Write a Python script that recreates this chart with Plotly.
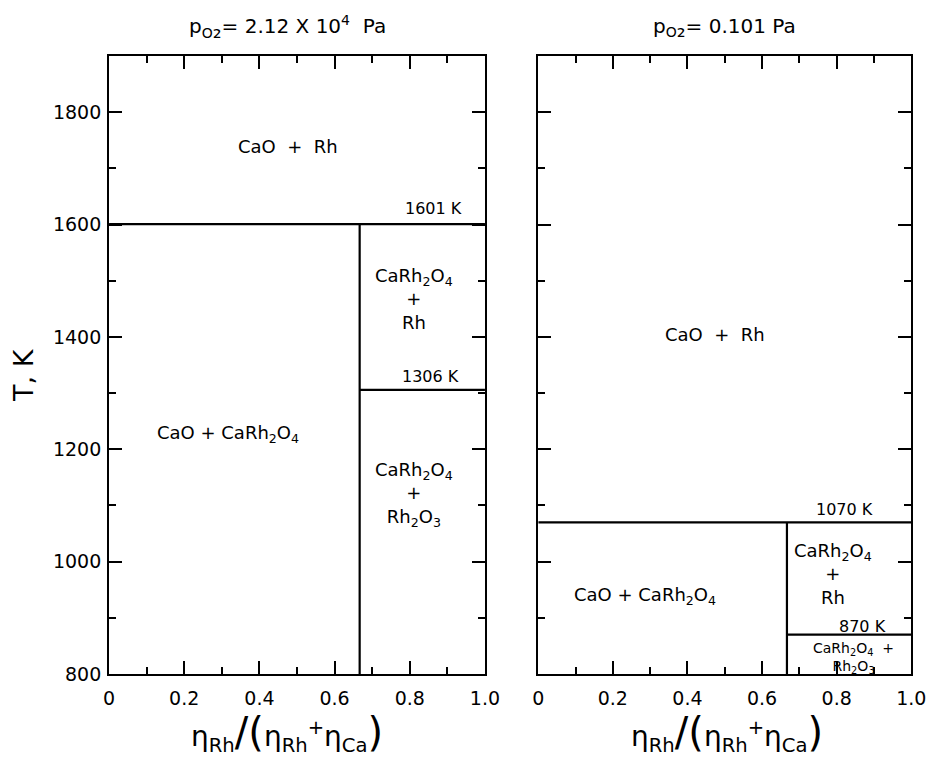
import plotly.graph_objects as go

# ---- data ----
x_compound = 2.0 / 3.0          # CaRh2O4 composition
left_T_upper = 1601             # K, CaRh2O4 decomposition (pO2 = 2.12e4 Pa)
left_T_lower = 1306             # K, Rh2O3 decomposition
right_T_upper = 1070            # K (pO2 = 0.101 Pa)
right_T_lower = 870             # K
T_min, T_max = 800, 1900
x_tickvals = [0, 0.2, 0.4, 0.6, 0.8, 1.0]
x_ticktext = ["0", "0.2", "0.4", "0.6", "0.8", "1.0"]
y_tickvals = [800, 1000, 1200, 1400, 1600, 1800]
y_ticktext = ["800", "1000", "1200", "1400", "1600", "1800"]

FONT = "DejaVu Sans"
line_style = dict(color="black", width=2.2)

fig = go.Figure()

def add_boundaries(xa, ya, t_up, t_low):
    fig.add_trace(go.Scatter(x=[0, 1], y=[t_up, t_up], mode="lines", line=line_style,
                             xaxis=xa, yaxis=ya, showlegend=False, hoverinfo="skip"))
    fig.add_trace(go.Scatter(x=[x_compound, x_compound], y=[T_min, t_up], mode="lines",
                             line=line_style, xaxis=xa, yaxis=ya, showlegend=False, hoverinfo="skip"))
    fig.add_trace(go.Scatter(x=[x_compound, 1], y=[t_low, t_low], mode="lines", line=line_style,
                             xaxis=xa, yaxis=ya, showlegend=False, hoverinfo="skip"))

add_boundaries("x", "y", left_T_upper, left_T_lower)
add_boundaries("x2", "y2", right_T_upper, right_T_lower)

axis_common = dict(
    showline=True, linecolor="black", linewidth=2, mirror="allticks",
    ticks="inside", ticklen=13, tickwidth=2, tickcolor="black",
    showgrid=False, zeroline=False, automargin=False, ticklabeloverflow="allow",
    tickfont=dict(family=FONT, size=19, color="black"),
)
xaxis_common = dict(axis_common, range=[0, 1], tickmode="array", tickvals=x_tickvals,
                    ticktext=x_ticktext, ticklabelstandoff=6,
                    minor=dict(dtick=0.1, ticklen=7, tickwidth=2, tickcolor="black", ticks="inside"))
yaxis_common = dict(axis_common, range=[T_min, T_max], tickmode="array", tickvals=y_tickvals,
                    ticktext=y_ticktext, ticklabelstandoff=2,
                    minor=dict(tickvals=[900, 1100, 1300, 1500, 1700], ticklen=7, tickwidth=2,
                               tickcolor="black", ticks="inside"))

fig.update_layout(
    width=928, height=759,
    margin=dict(l=0, r=0, t=0, b=0),
    paper_bgcolor="white", plot_bgcolor="white",
    font=dict(family=FONT, color="black"),
    xaxis=dict(xaxis_common, domain=[0.1175, 0.5226], anchor="y"),
    yaxis=dict(yaxis_common, domain=[0.112, 0.926], anchor="x"),
    xaxis2=dict(xaxis_common, domain=[0.580, 0.982], anchor="y2"),
    yaxis2=dict(yaxis_common, domain=[0.112, 0.926], anchor="x2", showticklabels=False),
)

def lab(text, x, y, xa, ya, size=18):
    fig.add_annotation(text=text, x=x, y=y, xref=xa, yref=ya, showarrow=False,
                       font=dict(family=FONT, size=size, color="black"),
                       xanchor="center", yanchor="middle", align="center")

CRO = "CaRh<sub>2</sub>O<sub>4</sub>"
RO = "Rh<sub>2</sub>O<sub>3</sub>"

# left panel labels
lab("CaO  +  Rh", 0.476, 1740, "x", "y")
lab("1601 K", 0.862, 1628, "x", "y", 16)
lab(CRO + "<br>+<br>Rh", 0.81, 1468, "x", "y")
lab("1306 K", 0.854, 1330, "x", "y", 16)
lab(CRO + "<br>+<br>" + RO, 0.81, 1120, "x", "y")
lab("CaO + " + CRO, 0.316, 1227, "x", "y")

# right panel labels
lab("CaO  +  Rh", 0.475, 1405, "x2", "y2")
lab("1070 K", 0.82, 1092, "x2", "y2", 16)
lab("CaO + " + CRO, 0.286, 938, "x2", "y2")
lab(CRO + "<br>+<br>Rh", 0.79, 978, "x2", "y2")
lab("870 K", 0.87, 885, "x2", "y2", 16)
lab(CRO + "  +<br>" + RO, 0.845, 828, "x2", "y2", 14)

def paper_lab(text, x, y, size, angle=0):
    fig.add_annotation(text=text, x=x, y=y, xref="paper", yref="paper", showarrow=False,
                       font=dict(family=FONT, size=size, color="black"),
                       xanchor="center", yanchor="middle", textangle=angle)

sub2 = '<span style="font-size:22px">₂</span>'
paper_lab("p<sub>O" + sub2 + "</sub>= 2.12 X 10<sup>4</sup>  Pa", 287 / 928, 1 - 28 / 759, 20)
paper_lab("p<sub>O" + sub2 + "</sub>= 0.101 Pa", 724 / 928, 1 - 28 / 759, 20)

big = '<span style="font-size:40px">'
xtitle = ("η<sub>Rh</sub>" + big + "/(</span>η<sub>Rh</sub><sup>+</sup>η<sub>Ca</sub>"
          + big + ")</span>")
paper_lab(xtitle, 287 / 928, 1 - 733 / 759, 28)
paper_lab(xtitle, 727 / 928, 1 - 733 / 759, 28)

paper_lab("T, K", 23 / 928, 1 - 375 / 759, 27, angle=-90)

fig.write_html("out.html")
